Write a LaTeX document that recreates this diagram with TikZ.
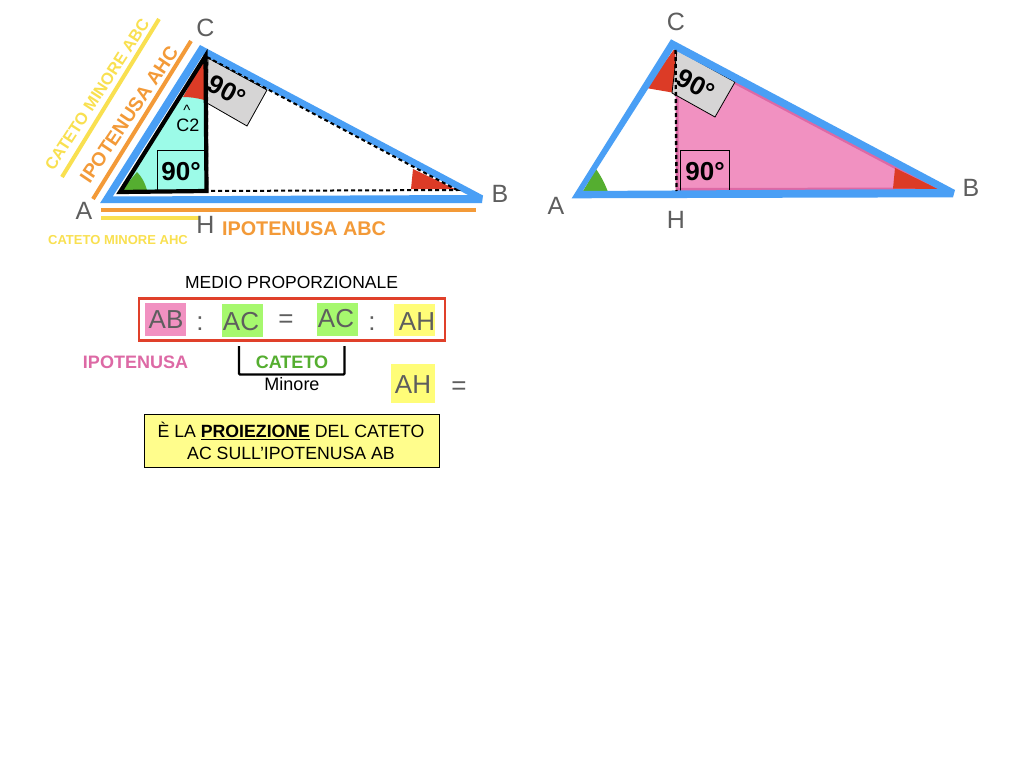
\documentclass[tikz,border=0pt]{standalone}
\usepackage{fontspec}
\setmainfont{Liberation Sans}
\definecolor{blueT}{HTML}{4A9FF5}
\definecolor{orangeL}{HTML}{F39A38}
\definecolor{yellowL}{HTML}{F9E050}
\definecolor{cyanF}{HTML}{9CFBE8}
\definecolor{redA}{HTML}{DC3B26}
\definecolor{greenA}{HTML}{55AE30}
\definecolor{grayBox}{HTML}{D6D5D5}
\definecolor{pinkF}{HTML}{F191C1}
\definecolor{pinkD}{HTML}{DD69A5}
\definecolor{labGray}{HTML}{5E5E5E}
\definecolor{limeB}{HTML}{A6F86E}
\definecolor{yellowB}{HTML}{FFFD78}
\definecolor{redBox}{HTML}{E0402A}
\newcommand{\fs}[1]{\fontsize{#1}{#1}\selectfont}
\tikzset{
  x=1pt,y=-1pt,
  every node/.style={inner sep=0pt,outer sep=0pt},
  bigLabel/.style={text=labGray,font=\fs{25}},
  tri/.style={fill=blueT,even odd rule},
  rule/.style={line width=4pt},
  dashLine/.style={draw=black,line width=2pt,dash pattern=on 4pt off 3pt},
  angleText/.style={font=\fs{26}\bfseries,text=black},
  angleBox/.style={draw=black,line width=0.8pt},
  grayTile/.style={fill=grayBox,draw=black,line width=0.8pt},
  chip/.style={text=labGray,font=\fs{26}},
}
\begin{document}
\begin{tikzpicture}
\useasboundingbox (0,0) rectangle (1024,768);
\fill[white] (0,0) rectangle (1024,768);

% ---------- left triangle
\coordinate (LH) at (206.5,191);
\coordinate (LT) at (205.5,56);
\coordinate (LK) at (120,192);

\fill[cyanF] (LK) -- (LT) -- (LH) -- cycle;
\fill[redA] (205.5,56) -- (183,97) .. controls (190,97) and (197,98) .. (204.5,100) -- cycle;
\fill[greenA] (122,190) -- (137,172) .. controls (142,177) and (145,183) .. (147,190) -- cycle;
\fill[redA] (413,169) -- (455,189) -- (411,189) -- cycle;
\filldraw[grayTile] (208,58) -- (267,90) -- (247,126) -- (207,103) -- cycle;
\draw[angleBox] (157,150) rectangle (205,190);
\fill[tri] (100,203.2) -- (200,45) -- (483,195.5) -- (482,203) -- cycle
           (112.7,196.5) -- (203,55) -- (468,195) -- cycle;
\draw[dashLine] (207,57) -- (457,190) -- (207,191) -- cycle;
\draw[black,line width=4.2pt,line join=miter] (LK) -- (LT) -- (LH) -- cycle;

\coordinate (OR1) at (93,199);
\coordinate (OR2) at (191,41);
\coordinate (YL1) at (62,177);
\coordinate (YL2) at (159,19);
\draw[orangeL,rule] (OR1) -- (OR2);
\draw[yellowL,rule] (YL1) -- (YL2);
\coordinate (OR3) at (101,210);
\coordinate (OR4) at (476,210);
\coordinate (YL3) at (101,217.7);
\coordinate (YL4) at (200,217.7);
\draw[orangeL,rule] (OR3) -- (OR4);
\draw[yellowL,rule] (YL3) -- (YL4);

\node[text=yellowL,font=\fs{16.5}\bfseries,rotate=57] (catAbc) at (97,94.5) {CATETO MINORE ABC};
\node[text=orangeL,font=\fs{19.3}\bfseries,rotate=56] (ipoAhc) at (129,114.5) {IPOTENUSA AHC};
\node[text=yellowL,font=\fs{13}\bfseries] (catAhc) at (118,240.5) {CATETO MINORE AHC};
\node[text=orangeL,font=\fs{19.8}\bfseries] (ipoAbc) at (304,229) {IPOTENUSA ABC};

\node[bigLabel] (lblA) at (84,211) {A};
\node[bigLabel] (lblC) at (205.5,28) {C};
\node[bigLabel] (lblH) at (205.5,225) {H};
\node[bigLabel] (lblB) at (500,194) {B};
\node[font=\fs{15}] (hat) at (187,110) {\^{}};
\node[font=\fs{18}] (c2) at (188,125) {C2};
\node[angleText,rotate=-28] (a1) at (227,91) {90°};
\node[angleText] (a2) at (181,172) {90°};

% ---------- right triangle
\filldraw[fill=pinkF,draw=pinkD,line width=3pt,line join=miter] (677,52) -- (936,189) -- (677,189.5) -- cycle;
\fill[redA] (675,48) -- (646,88) -- (675,93) -- cycle;
\fill[redA] (895,168) -- (938,189) -- (893,188.5) -- cycle;
\fill[greenA] (583,191) -- (596,169) .. controls (601,176) and (605,184) .. (608,192) -- cycle;
\filldraw[grayTile] (677,50) -- (735,82) -- (715,117) -- (672,93) -- cycle;
\draw[angleBox] (680,150) rectangle (729,191);
\fill[tri] (571.7,198.3) -- (671,39.3) -- (955,190) -- (953,197.3) -- cycle
           (582.7,191) -- (673.3,49.3) -- (938,189) -- cycle;
\coordinate (RD1) at (675.5,50);
\coordinate (RD2) at (676.5,191);
\draw[dashLine,line width=2.4pt] (RD1) -- (RD2);
\node[bigLabel] (rA) at (556,206) {A};
\node[bigLabel] (rC) at (676,22) {C};
\node[bigLabel] (rH) at (676,220) {H};
\node[bigLabel] (rB) at (971,188) {B};
\node[angleText,rotate=-28] (a3) at (696,85) {90°};
\node[angleText] (a4) at (705,172) {90°};

% ---------- proportion
\node[font=\fs{17.5}] (medio) at (291.5,282) {MEDIO PROPORZIONALE};
\node[draw=redBox,line width=2.2pt,minimum width=306pt,minimum height=42pt] (frame) at (292,319.5) {};
\fill[pinkF] (145,303) rectangle (186,336);
\fill[limeB] (222,304) rectangle (263,337);
\fill[limeB] (317,303) rectangle (358,336);
\fill[yellowB] (394,304) rectangle (435,336);
\fill[yellowB] (391,364) rectangle (435,403);
\node[chip] (ab) at (166,320) {AB};
\node[chip] (c1) at (200,323.5) {:};
\node[chip] (ac1) at (241,322) {AC};
\node[chip] (eq) at (286,321) {=};
\node[chip] (ac2) at (336,319) {AC};
\node[chip] (c2b) at (372,323.5) {:};
\node[chip] (ah) at (417,322) {AH};
\node[chip] (ah2) at (413,385) {AH};
\node[chip] (eq2) at (459,388) {=};
\coordinate (BR1) at (239,346);
\coordinate (BR2) at (239,374.5);
\coordinate (BR3) at (344.5,374.5);
\coordinate (BR4) at (344.5,346);
\draw[black,line width=2.2pt,rounded corners=1pt] (BR1) -- (BR2) -- (BR3) -- (BR4);
\node[text=greenA,font=\fs{18}\bfseries] (cateto) at (292,362) {CATETO};
\node[font=\fs{18}] (minore) at (292,384) {Minore};
\node[text=pinkD,font=\fs{18}\bfseries] (ipo) at (135.5,362) {IPOTENUSA};
\node[draw=black,line width=1pt,fill=yellowB!85!white,minimum width=295pt,minimum height=53pt] (note) at (291.5,440.5) {};
\node[font=\fs{17.7}] (n1) at (291,431) {È LA \underline{\textbf{PROIEZIONE}} DEL CATETO};
\node[font=\fs{17.7}] (n2) at (291,453) {AC SULL’IPOTENUSA AB};
\end{tikzpicture}
\end{document}
